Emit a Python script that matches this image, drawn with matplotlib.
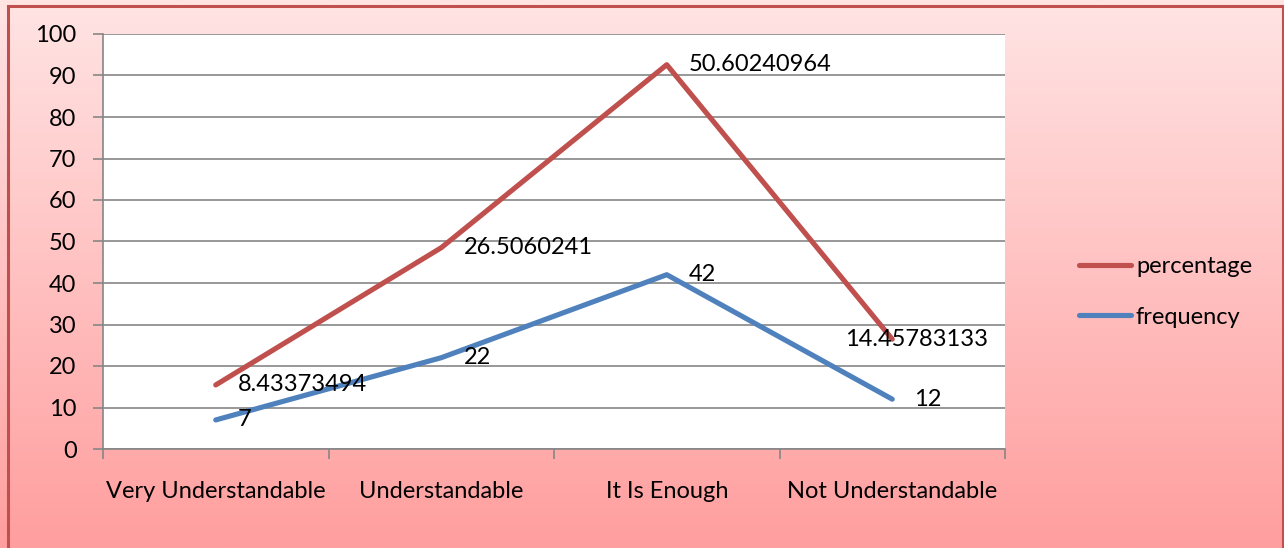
import numpy as np
import matplotlib
matplotlib.use("Agg")
import matplotlib.pyplot as plt
from matplotlib.patches import Rectangle
from matplotlib.lines import Line2D

categories = ["Very Understandable", "Understandable", "It Is Enough", "Not Understandable"]
frequency = [7, 22, 42, 12]
percentage = [8.43373494, 26.5060241, 50.60240964, 14.45783133]
percentage_labels = ["8.43373494", "26.5060241", "50.60240964", "14.45783133"]
frequency_labels = ["7", "22", "42", "12"]
y_ticks = list(range(0, 101, 10))

W, H = 1284, 548
FS = 17
plt.rcParams["font.family"] = ["Lato", "DejaVu Sans"]
fig = plt.figure(figsize=(W / 100, H / 100), dpi=100)

# gradient background of the chart area
bg = fig.add_axes([0, 0, 1, 1], zorder=-10)
top = np.array([255, 228, 228]) / 255
bot = np.array([255, 158, 158]) / 255
t = np.linspace(0, 1, 256)[:, None]
grad = (top[None, :] * (1 - t) + bot[None, :] * t)[:, None, :]
bg.imshow(grad, aspect="auto", extent=[0, 1, 0, 1], origin="upper")
bg.set_xlim(0, 1)
bg.set_ylim(0, 1)
bg.axis("off")
bg.add_patch(Rectangle((8 / W, -0.01), (1283 - 8) / W, 1.01 - 6 / H,
                       fill=False, edgecolor="#C0504D", linewidth=2.2,
                       transform=bg.transAxes))

left, right, topp, bottom = 103, 1005, 34, 449
ax = fig.add_axes([left / W, 1 - bottom / H, (right - left) / W, (bottom - topp) / H])
ax.set_facecolor("white")

x = np.arange(len(categories))
stacked = [f + p for f, p in zip(frequency, percentage)]

red = "#C0504D"
blue = "#4F81BD"
LW = 3.7
ax.plot(x, frequency, color=blue, linewidth=LW, solid_capstyle="round", zorder=3)
ax.plot(x, stacked, color=red, linewidth=LW, solid_capstyle="round", zorder=3)

ax.set_xlim(-0.5, len(categories) - 0.5)
ax.set_ylim(0, 100)
ax.set_yticks(y_ticks)
ax.set_xticks(np.arange(-0.5, len(categories), 1.0))
ax.set_xticks(x, minor=True)
ax.set_xticklabels([])
ax.set_xticklabels(categories, minor=True)
ax.tick_params(axis="x", which="minor", length=0, pad=23, labelsize=FS)
ax.tick_params(axis="x", which="major", length=7, width=1.2, color="#868686")
ax.tick_params(axis="y", length=7, width=1.2, color="#868686", pad=12, labelsize=FS)

ax.grid(axis="y", color="#868686", linewidth=1.2)
ax.set_axisbelow(True)
for side in ("top", "right"):
    ax.spines[side].set_visible(False)
for side in ("left", "bottom"):
    ax.spines[side].set_color("#868686")
    ax.spines[side].set_linewidth(1.2)

pct_offsets = [16, 16, 16, -34]
for i, (val, lab) in enumerate(zip(stacked, percentage_labels)):
    ax.annotate(lab, (x[i], val), xytext=(pct_offsets[i], 0), textcoords="offset points",
                ha="left", va="center", fontsize=FS, color="black", zorder=5)
for i, (val, lab) in enumerate(zip(frequency, frequency_labels)):
    ax.annotate(lab, (x[i], val), xytext=(16, 0), textcoords="offset points",
                ha="left", va="center", fontsize=FS, color="black", zorder=5)

handles = [Line2D([], [], color=red, linewidth=LW, solid_capstyle="round"),
           Line2D([], [], color=blue, linewidth=LW, solid_capstyle="round")]
fig.legend(handles, ["percentage", "frequency"], loc="center left",
           bbox_to_anchor=(1058 / W, 1 - 292 / H), frameon=False, fontsize=FS,
           handlelength=2.2, handletextpad=0.2, labelspacing=1.25)

fig.savefig("out.png", dpi=100)
